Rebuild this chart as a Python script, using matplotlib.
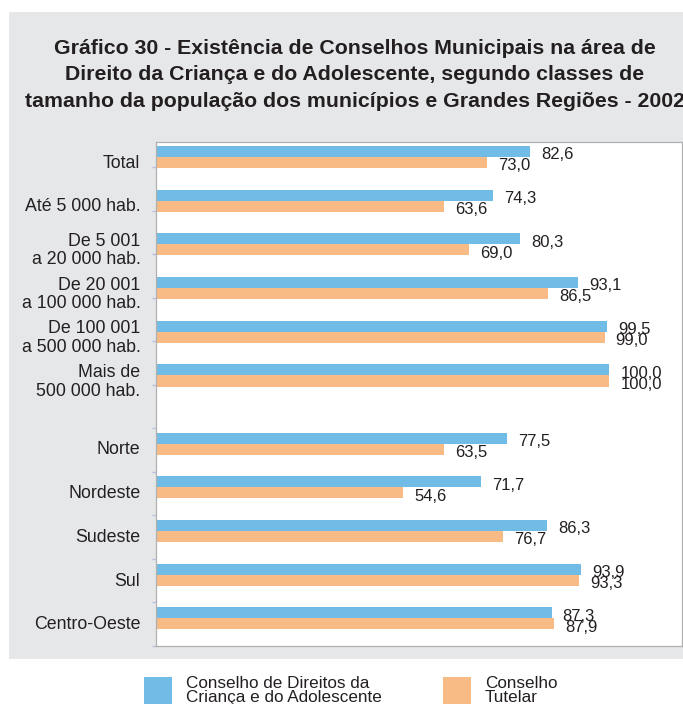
import matplotlib
matplotlib.use("Agg")
import matplotlib.pyplot as plt
from matplotlib.patches import Rectangle
import numpy as np

plt.rcParams['font.family'] = ['Liberation Sans', 'DejaVu Sans']

categories = ["Total", "Até 5 000 hab.", "De 5 001\na 20 000 hab.",
              "De 20 001\na 100 000 hab.", "De 100 001\na 500 000 hab.",
              "Mais de\n500 000 hab.", "Norte", "Nordeste", "Sudeste",
              "Sul", "Centro-Oeste"]
direitos = [82.6, 74.3, 80.3, 93.1, 99.5, 100.0, 77.5, 71.7, 86.3, 93.9, 87.3]
tutelar = [73.0, 63.6, 69.0, 86.5, 99.0, 100.0, 63.5, 54.6, 76.7, 93.3, 87.9]
legend_labels = ["Conselho de Direitos da\nCriança e do Adolescente", "Conselho\nTutelar"]

blue = "#70bce6"
orange = "#f9bb85"
panel = "#e6e7e9"
ink = "#231f20"

W, H = 683, 704
fig = plt.figure(figsize=(W / 100, H / 100), dpi=100)
fig.patch.set_facecolor("white")

# gray panel behind title and chart
fig.patches.append(Rectangle((9 / W, 1 - 659 / H), (W - 9) / W, (659 - 12) / H,
                             transform=fig.transFigure, facecolor=panel,
                             edgecolor="none", zorder=-5))

fig.text(355 / W, 1 - 75 / H,
         "Gráfico 30 - Existência de Conselhos Municipais na área de\n"
         "Direito da Criança e do Adolescente, segundo classes de\n"
         "tamanho da população dos municípios e Grandes Regiões - 2002",
         ha="center", va="center", fontsize=15.3, fontweight="bold",
         color=ink, linespacing=1.47)

ax = fig.add_axes([155.7 / W, 1 - 646 / H, 526 / W, 504 / H])
ax.set_zorder(3)
ax.set_facecolor("white")

# group positions: six size classes, a gap, then the five regions
pos = np.array([0, 1, 2, 3, 4, 5, 6.56, 7.56, 8.56, 9.56, 10.56])
h = 0.252
ax.barh(pos - h / 2, direitos, height=h, color=blue, zorder=2)
ax.barh(pos + h / 2, tutelar, height=h, color=orange, zorder=2)

for p, v in zip(pos, direitos):
    ax.annotate(f"{v:.1f}".replace(".", ","), (v, p - h / 2), xytext=(8, -1.2),
                textcoords="offset points", va="center_baseline", ha="left",
                fontsize=12, color=ink, annotation_clip=False)
for p, v in zip(pos, tutelar):
    ax.annotate(f"{v:.1f}".replace(".", ","), (v, p + h / 2), xytext=(8, -1.2),
                textcoords="offset points", va="center_baseline", ha="left",
                fontsize=12, color=ink, annotation_clip=False)

for p, lab in zip(pos, categories):
    ax.annotate(lab, (0, p), xytext=(-11, -4.5), textcoords="offset points",
                ha="right", va="center", fontsize=12.8, color=ink,
                linespacing=1.12, annotation_clip=False)

ax.set_xlim(0, 116)
ax.set_ylim(11.19, -0.343)
ax.set_xticks([])
ax.set_yticks(np.linspace(0.23, 11.19, 12))
ax.set_yticklabels([])
ax.tick_params(axis="y", length=3, width=1, color="#bcc0dc")
for s in ax.spines.values():
    s.set_color("#b0b0b0")
    s.set_linewidth(0.9)

# legend drawn below the panel
for x0, col, lab, tx in [(144, blue, legend_labels[0], 186),
                         (443, orange, legend_labels[1], 485)]:
    fig.patches.append(Rectangle((x0 / W, 1 - 710 / H), 28 / W, 33 / H,
                                 transform=fig.transFigure, facecolor=col,
                                 edgecolor="none"))
    fig.text(tx / W, 1 - 676 / H, lab, ha="left", va="top", fontsize=12.3,
             color=ink, linespacing=0.95)

fig.savefig("out.png", dpi=100)
